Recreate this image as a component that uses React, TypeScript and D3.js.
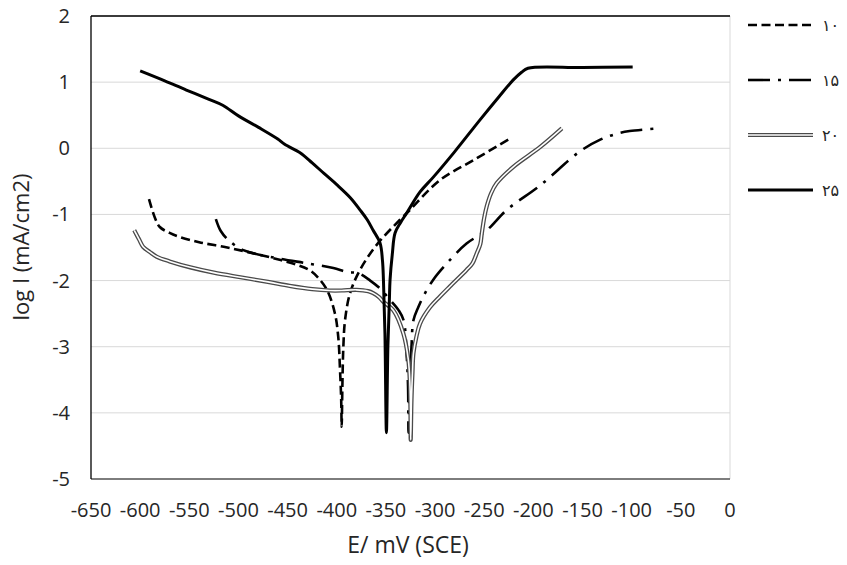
import React from "react";
import * as d3 from "d3";

// Potentiodynamic polarization curves: E (mV vs SCE) against log I (mA/cm2)
const xTicks = [-650, -600, -550, -500, -450, -400, -350, -300, -250, -200, -150, -100, -50, 0];
const yTicks = [2, 1, 0, -1, -2, -3, -4, -5];
const seriesNames = ["۱۰", "۱۵", "۲۰", "۲۵"];

const s10: [number, number][] = [
  [-591, -0.77], [-585, -1.05], [-580, -1.19], [-570, -1.28], [-560, -1.34], [-540, -1.42],
  [-515, -1.49], [-490, -1.57], [-465, -1.66], [-441, -1.76], [-428, -1.84], [-420, -1.94],
  [-410, -2.14], [-402, -2.49], [-398.5, -2.85], [-396.7, -3.35], [-395.5, -3.8], [-395, -4.21],
  [-394.3, -3.6], [-393.3, -3.0], [-391.6, -2.6], [-386.5, -2.19], [-376.4, -1.84],
  [-359.4, -1.46], [-335.7, -1.08], [-325.5, -0.93], [-295, -0.48], [-261, -0.18], [-225.5, 0.13],
];

const s15: [number, number][] = [
  [-523, -1.07], [-518, -1.25], [-510, -1.39], [-495, -1.54], [-461, -1.66], [-430, -1.74],
  [-403.5, -1.81], [-390, -1.87], [-378, -1.89], [-366, -2.0], [-356, -2.12], [-346, -2.29],
  [-337, -2.45], [-332, -2.6], [-329, -3.1], [-327.5, -3.6], [-327, -4.3], [-326, -3.6],
  [-324, -3.0], [-322, -2.6], [-317, -2.4], [-312, -2.24], [-302, -1.99], [-288, -1.74],
  [-268, -1.44], [-247.5, -1.24], [-227, -0.93], [-193, -0.56], [-153, -0.05], [-132, 0.13],
  [-115, 0.22], [-102, 0.26], [-73, 0.3],
];

const s20: [number, number][] = [
  [-606, -1.24], [-601, -1.38], [-597, -1.49], [-590, -1.57], [-583, -1.64], [-570, -1.71],
  [-549, -1.8], [-525, -1.88], [-498, -1.95], [-470, -2.02], [-448, -2.08], [-425, -2.13],
  [-407, -2.15], [-395, -2.15], [-380, -2.14], [-368, -2.16], [-363, -2.19], [-357, -2.25],
  [-352.7, -2.32], [-342.5, -2.45], [-332.3, -2.8], [-327.2, -3.2], [-325.5, -3.6], [-325, -4.0],
  [-324.8, -4.41], [-324, -3.8], [-323, -3.4], [-322, -3.1], [-319, -2.85], [-315.3, -2.65],
  [-305, -2.4], [-295, -2.24], [-285, -2.09], [-268, -1.84], [-262, -1.74], [-257.7, -1.59],
  [-254, -1.45], [-252.5, -1.29], [-250, -1.05], [-247.5, -0.88], [-243, -0.68], [-237.4, -0.53],
  [-220.4, -0.28], [-193, 0.02], [-171, 0.3],
];

const s25: [number, number][] = [
  [-600, 1.17], [-575, 1.02], [-553, 0.88], [-530, 0.74], [-516, 0.65], [-500, 0.49],
  [-480, 0.32], [-460, 0.14], [-453, 0.06], [-437, -0.07], [-425, -0.22], [-413, -0.38],
  [-400, -0.55], [-386, -0.75], [-376.4, -0.93], [-369, -1.08], [-363, -1.24], [-356, -1.43],
  [-353.5, -1.7], [-352.5, -2.0], [-351, -2.8], [-349.5, -4.3], [-348, -3.0], [-346.5, -2.3],
  [-345.8, -1.99], [-343.5, -1.6], [-340.7, -1.28], [-335, -1.12], [-328.9, -0.98],
  [-315.3, -0.66], [-302, -0.44], [-280, -0.05], [-254.3, 0.43], [-235, 0.78], [-220.7, 1.03],
  [-212, 1.15], [-205.5, 1.21], [-150, 1.22], [-99, 1.23],
];

const W = 847;
const H = 565;
const x = d3.scaleLinear().domain([-650, 0]).range([91, 730]);
const y = d3.scaleLinear().domain([-5, 2]).range([479, 16]);

const line = d3
  .line<[number, number]>()
  .x((d) => x(d[0]))
  .y((d) => y(d[1]))
  .curve(d3.curveCatmullRom.alpha(0.5));

const FONT = "'Open Sans', 'DejaVu Sans', sans-serif";
const TEXT = "#262626";

type Kind = "dash" | "dashdot" | "double" | "solid";
const kinds: Kind[] = ["dash", "dashdot", "double", "solid"];
const allSeries = [s10, s15, s20, s25];

function Stroke({ d, kind }: { d: string; kind: Kind }) {
  if (kind === "double") {
    return (
      <g fill="none" strokeLinejoin="round">
        <path d={d} stroke="#4a4a4a" strokeWidth={4.2} />
        <path d={d} stroke="#ffffff" strokeWidth={1.6} />
      </g>
    );
  }
  const dash = kind === "dash" ? "9,4.5" : kind === "dashdot" ? "22,8,3,8" : undefined;
  return (
    <path
      d={d}
      fill="none"
      stroke="#000"
      strokeWidth={kind === "solid" ? 3 : 2.6}
      strokeDasharray={dash}
      strokeLinejoin="round"
    />
  );
}

export default function App() {
  const legendY = [25, 80, 135, 190];
  return (
    <div style={{ position: "fixed", left: 0, top: 0, width: W, height: H, background: "#fff" }}>
      <svg width={W} height={H} style={{ display: "block" }}>
        <rect x={0} y={0} width={W} height={H} fill="#fff" />
        {/* horizontal gridlines */}
        {yTicks.map((t) => (
          <line key={t} x1={x(-650)} x2={x(0)} y1={y(t)} y2={y(t)} stroke="#d9d9d9" strokeWidth={1} />
        ))}
        {/* frame */}
        <line x1={x(0)} x2={x(0)} y1={y(2)} y2={y(-5)} stroke="#d9d9d9" strokeWidth={1} />
        <line x1={x(-650)} x2={x(0)} y1={y(-5)} y2={y(-5)} stroke="#595959" strokeWidth={1.3} />
        <line x1={x(-650)} x2={x(0)} y1={y(2)} y2={y(2)} stroke="#000" strokeWidth={1.3} />
        <line x1={x(-650)} x2={x(-650)} y1={y(2)} y2={y(-5)} stroke="#000" strokeWidth={1.3} />

        {/* tick labels */}
        {xTicks.map((t) => (
          <text key={t} x={x(t)} y={517} textAnchor="middle" fontFamily={FONT} fontSize={20} fill={TEXT}>
            {t}
          </text>
        ))}
        {yTicks.map((t) => (
          <text key={t} x={70} y={y(t) + 7} textAnchor="end" fontFamily={FONT} fontSize={20} fill={TEXT}>
            {t}
          </text>
        ))}

        {/* axis titles */}
        <text x={408} y={553} textAnchor="middle" fontFamily={FONT} fontSize={23} fill={TEXT}>
          E/ mV (SCE)
        </text>
        <text
          transform="translate(29,247) rotate(-90)"
          textAnchor="middle"
          fontFamily={FONT}
          fontSize={22}
          fill={TEXT}
        >
          log I (mA/cm2)
        </text>

        {/* curves */}
        {allSeries.map((s, i) => (
          <Stroke key={i} d={line(s) || ""} kind={kinds[i]} />
        ))}

        {/* legend */}
        {seriesNames.map((name, i) => (
          <g key={name}>
            <Stroke d={`M748,${legendY[i]}L813,${legendY[i]}`} kind={kinds[i]} />
            <text
              x={822}
              y={legendY[i] + 6}
              fontFamily="'DejaVu Sans', sans-serif"
              fontSize={16}
              fill={TEXT}
              direction="ltr"
            >
              {name}
            </text>
          </g>
        ))}
      </svg>
    </div>
  );
}
